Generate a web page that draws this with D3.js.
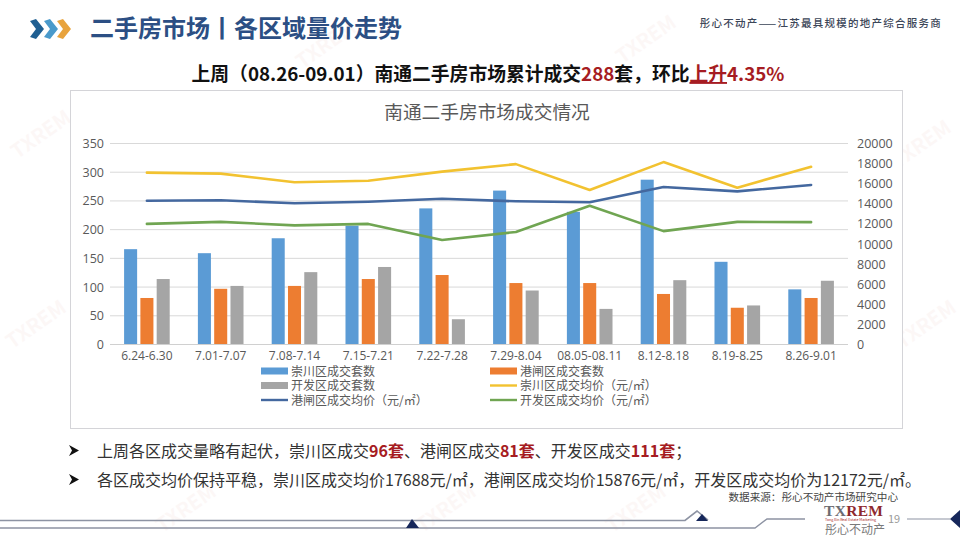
<!DOCTYPE html>
<html>
<head>
<meta charset="utf-8">
<script src="https://cdn.jsdelivr.net/npm/d3@7"></script>
<style>
html, body { margin:0; padding:0; background:#fff; }
text { font-family:"Noto Sans CJK SC", "Noto Sans", sans-serif; }
</style>
</head>
<body>
<svg id="chart" width="960" height="540"></svg>
<script>
var weeks = ['6.24-6.30','7.01-7.07','7.08-7.14','7.15-7.21','7.22-7.28','7.29-8.04','08.05-08.11','8.12-8.18','8.19-8.25','8.26-9.01']

// bars, left axis
var chongchuanCount = [166,159,185,207,237,268,231,287,144,96]
var gangzhaCount    = [81,97,102,114,121,107,107,88,64,81]
var kaifaCount      = [114,102,126,135,44,94,62,112,68,111]

// lines, right axis
var chongchuanPrice = [17100,17000,16140,16300,17200,17950,15370,18150,15600,17688]
var gangzhaPrice    = [14300,14350,14050,14200,14500,14250,14150,15670,15240,15876]
var kaifaPrice      = [12000,12200,11850,12000,10400,11200,13800,11280,12200,12172]

var leftTicks  = [0,50,100,150,200,250,300,350]
var rightTicks = [0,2000,4000,6000,8000,10000,12000,14000,16000,18000,20000]

var barSeries = [
    { name:'崇川区成交套数', values:chongchuanCount, color:'#5b9bd5' },
    { name:'港闸区成交套数', values:gangzhaCount,    color:'#ed7d31' },
    { name:'开发区成交套数', values:kaifaCount,      color:'#a5a5a5' }
]
var lineSeries = [
    { name:'崇川区成交均价（元/㎡）', values:chongchuanPrice, color:'#f2c230' },
    { name:'港闸区成交均价（元/㎡）', values:gangzhaPrice,    color:'#44689f' },
    { name:'开发区成交均价（元/㎡）', values:kaifaPrice,      color:'#70a552' }
]

var svg = d3.select('#chart')
var inkBlue = '#2c4f84'
var red = '#a61c22'

// faint watermarks behind everything
var marks = [[45,140],[330,50],[650,45],[925,150],[40,330],[930,330],[190,514],[450,514],[640,514]]
svg.selectAll('text.wm').data(marks).enter().append('text')
    .attr('class', 'wm')
    .attr('transform', d=> 'translate(' + d + ') rotate(-35)')
    .attr('text-anchor', 'middle')
    .attr('font-size', 20)
    .attr('font-weight', 700)
    .attr('fill', '#c0392b')
    .attr('opacity', 0.035)
    .text('TXREM')

// header
var chevrons = [[30,'#1f5f92'],[44,'#4a9acb'],[57,'#e8a33d']]
svg.selectAll('path.chev').data(chevrons).enter().append('path')
    .attr('class', 'chev')
    .attr('d', d=> 'M' + d[0] + ',21 L' + (d[0]+6) + ',19 L' + (d[0]+14) + ',29 L' + (d[0]+6) + ',39 L' + d[0] + ',37 L' + (d[0]+6) + ',29 Z')
    .attr('fill', d=> d[1])

svg.append('text').attr('x', 90).attr('y', 37)
    .attr('font-size', 24).attr('font-weight', 700).attr('fill', inkBlue)
    .text('二手房市场丨各区域量价走势')
svg.append('text').attr('x', 942).attr('y', 27).attr('text-anchor', 'end')
    .attr('font-size', 10.5).attr('font-weight', 500).attr('letter-spacing', 1.25).attr('fill', '#3c4658')
    .text('彤心不动产——江苏最具规模的地产综合服务商')

var head = svg.append('text').attr('x', 488).attr('y', 81).attr('text-anchor', 'middle')
    .attr('font-size', 18.8).attr('font-weight', 700).attr('fill', '#111')
head.append('tspan').text('上周（08.26-09.01）南通二手房市场累计成交')
head.append('tspan').attr('fill', red).text('288')
head.append('tspan').text('套，环比')
head.append('tspan').attr('fill', red).attr('text-decoration', 'underline').text('上升')
head.append('tspan').attr('fill', red).text('4.35%')

// chart frame
svg.append('rect').attr('x', 70.5).attr('y', 90.5).attr('width', 832).attr('height', 338)
    .attr('fill', '#fff').attr('stroke', '#d4d4d8')
svg.append('text').attr('x', 487).attr('y', 119).attr('text-anchor', 'middle')
    .attr('font-size', 18.7).attr('fill', '#595959').text('南通二手房市场成交情况')

var x = d3.scaleBand().domain(weeks).range([110, 848]).paddingInner(0).paddingOuter(0)
var xInner = d3.scaleBand().domain([0,1,2]).range([0, x.bandwidth()]).paddingInner(0.2).paddingOuter(0.865)
var yLeft = d3.scaleLinear().domain([0,350]).range([344.5, 143.5])
var yRight = d3.scaleLinear().domain([0,20000]).range([344.5, 143.5])

svg.append('g').selectAll('line').data(leftTicks).enter().append('line')
    .attr('x1', 110).attr('x2', 848)
    .attr('y1', d=> yLeft(d)).attr('y2', d=> yLeft(d))
    .attr('stroke', '#d9d9d9').attr('stroke-width', 1)

barSeries.forEach(function(s, i) {
    svg.append('g').selectAll('rect').data(s.values).enter().append('rect')
        .attr('x', (d, k)=> x(weeks[k]) + xInner(i))
        .attr('width', xInner.bandwidth())
        .attr('y', d=> yLeft(d))
        .attr('height', d=> yLeft(0) - yLeft(d))
        .attr('fill', s.color)
})

var priceLine = d3.line()
    .x((d, k)=> x(weeks[k]) + x.bandwidth() / 2)
    .y(d=> yRight(d))

lineSeries.forEach(function(s) {
    svg.append('path').datum(s.values)
        .attr('d', priceLine)
        .attr('fill', 'none')
        .attr('stroke', s.color)
        .attr('stroke-width', 2.6)
        .attr('stroke-linejoin', 'round')
        .attr('stroke-linecap', 'round')
})

// axes, domain lines and tick marks removed
var axisLeft = d3.axisLeft(yLeft).tickValues(leftTicks).tickSize(0).tickPadding(6)
var axisRight = d3.axisRight(yRight).tickValues(rightTicks).tickFormat(d3.format('d')).tickSize(0).tickPadding(9)
var axisBottom = d3.axisBottom(x).tickSize(0).tickPadding(7)

function styleAxis(g, size) {
    g.select('.domain').remove()
    g.selectAll('text').attr('font-size', size).attr('fill', '#595959')
        .style('font-family', '"Open Sans", "Noto Sans", sans-serif')
}
svg.append('g').attr('transform', 'translate(110,0)').call(axisLeft).call(styleAxis, 12.5)
svg.append('g').attr('transform', 'translate(848,0)').call(axisRight).call(styleAxis, 12.5)
svg.append('g').attr('transform', 'translate(0,344.5)').call(axisBottom).call(styleAxis, 12)
svg.append('line').attr('x1', 110).attr('x2', 848).attr('y1', 344.5).attr('y2', 344.5).attr('stroke', '#d0d0d0')

// legend: two columns, filled in reading order
var legendItems = barSeries.map(s=> ({ name:s.name, color:s.color, bar:true }))
    .concat(lineSeries.map(s=> ({ name:s.name, color:s.color, bar:false })))
var legendCols = d3.scaleOrdinal().domain([0,1]).range([260, 489])
var legendRows = d3.scaleLinear().domain([0,1]).range([371, 385.5])
var legend = svg.append('g').selectAll('g').data(legendItems).enter().append('g')
    .attr('transform', (d, i)=> 'translate(' + legendCols(i % 2) + ',' + legendRows(Math.floor(i / 2)) + ')')
legend.append('rect')
    .attr('x', 1).attr('width', 27)
    .attr('y', d=> d.bar ? -3.5 : -1.2)
    .attr('height', d=> d.bar ? 7 : 2.4)
    .attr('fill', d=> d.color)
legend.append('text')
    .attr('x', 31).attr('y', 4.5)
    .attr('font-size', 12).attr('fill', '#595959')
    .text(d=> d.name)

// bullets under the chart
function bulletLine(y, parts) {
    svg.append('path')
        .attr('d', 'M69,' + (y-11) + ' L79,' + (y-5.5) + ' L69,' + y + ' L72,' + (y-5.5) + ' Z')
        .attr('fill', '#111')
    var t = svg.append('text').attr('x', 97).attr('y', y + 1).attr('font-size', 16).attr('fill', '#333')
    parts.forEach(function(p) {
        var s = t.append('tspan').text(p[0])
        if (p[1]) s.attr('fill', red).attr('font-weight', 700)
    })
}
bulletLine(456, [['上周各区成交量略有起伏，崇川区成交'],['96套',1],['、港闸区成交'],['81套',1],['、开发区成交'],['111套',1],['；']])
bulletLine(485, [['各区成交均价保持平稳，崇川区成交均价17688元/㎡，港闸区成交均价15876元/㎡，开发区成交均价为12172元/㎡。']])

svg.append('text').attr('x', 898).attr('y', 501).attr('text-anchor', 'end')
    .attr('font-size', 10.6).attr('fill', '#444').text('数据来源：彤心不动产市场研究中心')

// footer rules
var rule = d3.line()
var footer = svg.append('g').attr('fill', 'none').attr('stroke', '#8d93a3')
footer.append('path').attr('stroke-width', 1.6).attr('d', rule([[0,520.5],[685,520.5],[697,511],[708,520]]))
footer.append('path').attr('stroke-width', 1.4).attr('d', rule([[0,528],[755,528],[767,519],[805,519]]))
footer.append('path').attr('stroke-width', 1.2).attr('d', rule([[907,519],[950,519]]))
svg.append('path').attr('d', 'M406,528 L412,519 L419,528 Z').attr('fill', '#16275a')
svg.append('path').attr('d', 'M696,521 L702,514 L708,521 Z').attr('fill', '#16275a')
svg.append('path').attr('d', 'M950,519 L960,510 L960,528 Z').attr('fill', '#16275a')

var logo = svg.append('text').attr('x', 824).attr('y', 516)
    .attr('font-size', 15.5).attr('font-weight', 700).attr('letter-spacing', 0.3)
    .style('font-family', '"Liberation Serif", serif')
logo.append('tspan').attr('fill', '#6d6d72').text('TX')
logo.append('tspan').attr('fill', '#8f2a2e').text('REM')
svg.append('text').attr('x', 825).attr('y', 521)
    .attr('font-size', 3.6).attr('fill', '#a61c22').text('Tong Xin Real Estate Marketing')
svg.append('text').attr('x', 888).attr('y', 523)
    .attr('font-size', 11).attr('fill', '#9a9a9a').text('19')
svg.append('text').attr('x', 825).attr('y', 534)
    .attr('font-size', 12).attr('fill', '#7a7a7a').text('彤心不动产')
</script>
</body>
</html>
